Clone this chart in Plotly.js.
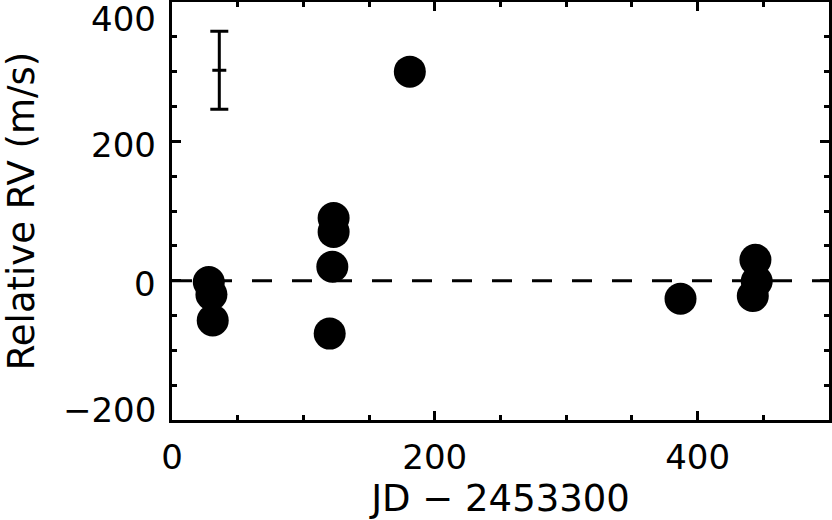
<!DOCTYPE html>
<html>
<head>
<meta charset="utf-8">
<script src="https://cdn.plot.ly/plotly-3.0.1.min.js"></script>
<style>
body { margin: 0; padding: 0; background: #fff; }
#plot { width: 832px; height: 520px; }
</style>
</head>
<body>
<div id="plot"></div>
<script>
// Observations: JD - 2453300 and relative RV (m/s)
var jd = [28, 30, 31, 123, 123, 122, 120, 181, 387, 444, 445, 442];
var rv = [-2, -20, -57, 90, 70, 20, -76, 300, -26, 30, -1, -22];

// Typical error bar sample
var errX = [36];
var errY = [302];
var errSize = [56];

// Zero reference line
var zeroX = [0, 500];
var zeroY = [0, 0];

var xTicks = [0, 200, 400];
var xTickText = ['0', '200', '400'];
var yTicks = [-200, 0, 200, 400];
var yTickText = ['\u2212200', '0', '200', '400'];

var traces = [
  {
    x: zeroX, y: zeroY, mode: 'lines', type: 'scatter',
    line: {color: '#000', width: 3, dash: '20px,20px'},
    hoverinfo: 'skip', showlegend: false
  },
  {
    x: errX, y: errY, mode: 'markers', type: 'scatter',
    marker: {symbol: 'line-ew', size: 10, color: '#000', line: {color: '#000', width: 3}},
    error_y: {type: 'data', array: errSize, visible: true, color: '#000', thickness: 3, width: 9},
    showlegend: false
  },
  {
    x: jd, y: rv, mode: 'markers', type: 'scatter',
    marker: {symbol: 'circle', size: 32, color: '#000', line: {width: 0}},
    showlegend: false
  }
];

var fontFam = 'DejaVu Sans, sans-serif';

// y tick labels drawn IDL-style (end labels kept inside the frame)
var yMin = Math.min.apply(null, yTicks), yMax = Math.max.apply(null, yTicks);
var annotations = yTicks.map(function (v, i) {
  var shift = v === yMax ? -17 : (v === yMin ? 10 : -3.5);
  return {
    xref: 'paper', x: 0, yref: 'y', y: v,
    text: yTickText[i], showarrow: false,
    xanchor: 'right', yanchor: 'middle',
    xshift: -14, yshift: shift,
    font: {family: fontFam, size: 34, color: '#000'}
  };
});

var layout = {
  width: 832, height: 520,
  margin: {l: 172, r: 3, t: 2, b: 100},
  paper_bgcolor: '#fff', plot_bgcolor: '#fff',
  font: {family: fontFam, color: '#000', size: 34},
  annotations: annotations,
  xaxis: {
    range: [0, 500], showgrid: false, zeroline: false,
    showline: true, linewidth: 3, linecolor: '#000', mirror: 'ticks',
    ticks: 'inside', ticklen: 9, tickwidth: 3, tickcolor: '#000',
    tickmode: 'array', tickvals: xTicks, ticktext: xTickText,
    tickfont: {family: fontFam, size: 34, color: '#000'},
    ticklabelstandoff: 5,
    minor: {dtick: 50, tick0: 0, ticks: 'inside', ticklen: 5, tickwidth: 3, tickcolor: '#000', showgrid: false},
    title: {text: 'JD \u2212 2453300', font: {family: fontFam, size: 37, color: '#000'}, standoff: 14},
    automargin: false
  },
  yaxis: {
    range: [-200, 400], showgrid: false, zeroline: false,
    showline: true, linewidth: 3, linecolor: '#000', mirror: 'ticks',
    ticks: 'inside', ticklen: 9, tickwidth: 3, tickcolor: '#000',
    tickmode: 'array', tickvals: yTicks, ticktext: yTickText,
    showticklabels: false,
    minor: {dtick: 50, tick0: 0, ticks: 'inside', ticklen: 5, tickwidth: 3, tickcolor: '#000', showgrid: false},
    title: {text: 'Relative RV (m/s)', font: {family: fontFam, size: 37, color: '#000'}, standoff: 133},
    automargin: false
  }
};

Plotly.newPlot('plot', traces, layout, {displayModeBar: false, staticPlot: true});
</script>
</body>
</html>
